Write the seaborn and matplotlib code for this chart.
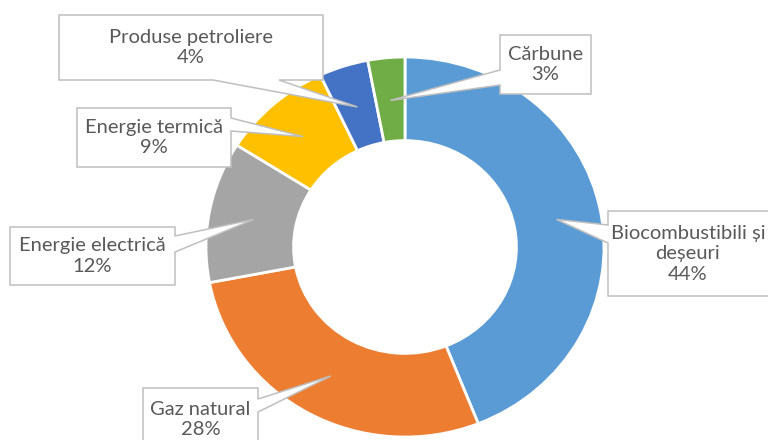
import textwrap

import numpy as np
import matplotlib.pyplot as plt
from matplotlib.patches import Polygon
import seaborn as sns


# Data
categories = [
    "Biocombustibili și deșeuri",
    "Gaz natural",
    "Energie electrică",
    "Energie termică",
    "Produse petroliere",
    "Cărbune",
]
shares = [44, 28, 12, 9, 4, 3]
colors = ["#5B9BD5", "#ED7D31", "#A5A5A5", "#FFC000", "#4472C4", "#70AD47"]


# Layout (pixels, origin top-left)
W, H = 768, 440
cx, cy = 405, 247
rx, ry = 199, 190

# box (x0, y0, x1, y1), edge the pointer leaves from, pointer base span
callouts = [
    ((608, 211, 778, 296), "left", (225, 243)),
    ((143, 388, 258, 451), "right", (399, 412)),
    ((10, 227, 175, 285), "right", (236, 252)),
    ((77, 108, 231, 167), "right", (118, 131)),
    ((59, 15, 323, 80), "bottom", (213, 279)),
    ((500, 35, 591, 94), "left", (70, 85)),
]


sns.set_theme(style="white")
plt.rcParams["font.family"] = ["Lato", "DejaVu Sans"]

fig = plt.figure(figsize=(W / 100, H / 100), dpi=100)

# Donut
ax_pie = fig.add_axes([
    (cx - rx) / W,
    (H - cy - ry) / H,
    2 * rx / W,
    2 * ry / H
])

ax_pie.pie(
    shares,
    colors=sns.color_palette(colors),
    startangle=90,
    counterclock=False,
    radius=1,
    wedgeprops=dict(width=0.44, edgecolor="white", linewidth=2)
)
ax_pie.set_xlim(-1, 1)
ax_pie.set_ylim(-1, 1)
ax_pie.set_aspect("auto")
ax_pie.axis("off")


# Callout labels
ax = fig.add_axes([0, 0, 1, 1], facecolor="none")
ax.set_xlim(0, W)
ax.set_ylim(H, 0)
ax.axis("off")

mid = np.cumsum(shares) - np.array(shares) / 2
theta = np.deg2rad(90 - mid * 3.6)

for name, val, t, (box, side, (a, b)) in zip(categories, shares, theta, callouts):
    x0, y0, x1, y1 = box
    tip = (cx + 0.775 * rx * np.cos(t), cy - 0.775 * ry * np.sin(t))

    if side == "left":
        pts = [(x0, y0), (x1, y0), (x1, y1), (x0, y1), (x0, b), tip, (x0, a)]
    elif side == "right":
        pts = [(x0, y0), (x1, y0), (x1, a), tip, (x1, b), (x1, y1), (x0, y1)]
    else:
        pts = [(x0, y0), (x1, y0), (x1, y1), (b, y1), tip, (a, y1), (x0, y1)]

    ax.add_patch(
        Polygon(
            pts,
            closed=True,
            facecolor="white",
            edgecolor="#BFBFBF",
            linewidth=1.1,
            clip_on=False
        )
    )

    # keep the text inside the picture when the box runs off the edge
    tx = min((x0 + x1) / 2, W - 80)

    ax.text(
        tx,
        (y0 + y1) / 2,
        textwrap.fill(name, 18) + f"\n{val}%",
        ha="center",
        va="center",
        fontsize=14.5,
        color="#595959",
        linespacing=1.25
    )

plt.savefig("out.png", dpi=100)
plt.close()
